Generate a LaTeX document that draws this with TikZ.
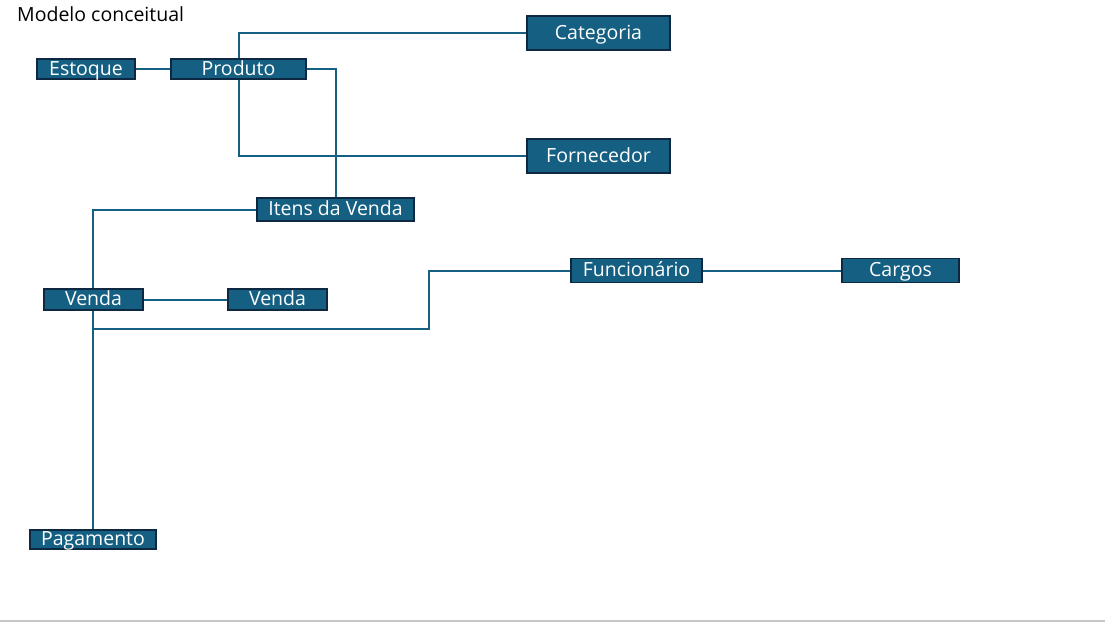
\documentclass[tikz,border=0pt]{standalone}
\usepackage{fontspec}
\setmainfont{Open Sans}
\usetikzlibrary{backgrounds}
\definecolor{boxfill}{HTML}{156082}
\definecolor{boxline}{HTML}{0E2841}
\definecolor{conn}{HTML}{156082}
\definecolor{rule}{HTML}{C8C8C8}
\tikzset{
  entity/.style={draw=boxline, fill=boxfill, line width=1.8pt, text=white,
    inner sep=0pt, font=\fontsize{19.5}{21}\selectfont,
    text height=1.27em, text depth=0pt, anchor=center},
  link/.style={draw=conn, line width=2pt},
  title/.style={font=\fontsize{19.5}{21}\selectfont, text=black, inner sep=0pt, anchor=base west}
}
\begin{document}
\begin{tikzpicture}[x=1pt,y=-1pt]
\useasboundingbox (0,0) rectangle (1105,623);
\node[title] (ttl) at (17,22) {Modelo conceitual};
\node[entity, minimum width=143pt, minimum height=34pt] (cat) at (598.5,33) {Categoria};
\node[entity, minimum width=143pt, minimum height=34pt] (forn) at (598.5,156) {Fornecedor};
\node[entity, minimum width=98pt, minimum height=20pt] (est) at (86,69) {Estoque};
\node[entity, minimum width=135pt, minimum height=20pt] (prod) at (238.5,69) {Produto};
\node[entity, minimum width=157pt, minimum height=23pt] (itens) at (335.5,209.5) {Itens da Venda};
\node[entity, minimum width=99pt, minimum height=21pt] (v1) at (93.5,299.5) {Venda};
\node[entity, minimum width=99pt, minimum height=21pt] (v2) at (277.5,299.5) {Venda};
\node[entity, minimum width=131pt, minimum height=24pt] (func) at (636.5,270.5) {Funcionário};
\node[entity, minimum width=117pt, minimum height=24pt] (carg) at (900.5,270.5) {Cargos};
\node[entity, minimum width=126pt, minimum height=19pt] (pag) at (93,539.5) {Pagamento};
\coordinate (j1) at (93,329);
\coordinate (bend) at (429,329);
\coordinate (r0) at (0,621);
\coordinate (r1) at (1105,621);
\begin{pgfonlayer}{background}
\draw[link] (prod.north) |- (cat.west);
\draw[link] (prod.south) |- (forn.west);
\draw[link] (prod.east) -| (itens.north);
\draw[link] (est.east) -- (prod.west);
\draw[link] (itens.west) -| (pag.north);
\draw[link] (v1.east) -- (v2.west);
\draw[link] (j1) -- (bend) |- (func.west);
\draw[link] (func.east) -- (carg.west);
\draw[draw=rule, line width=1.5pt] (r0) -- (r1);
\end{pgfonlayer}
\end{tikzpicture}
\end{document}
